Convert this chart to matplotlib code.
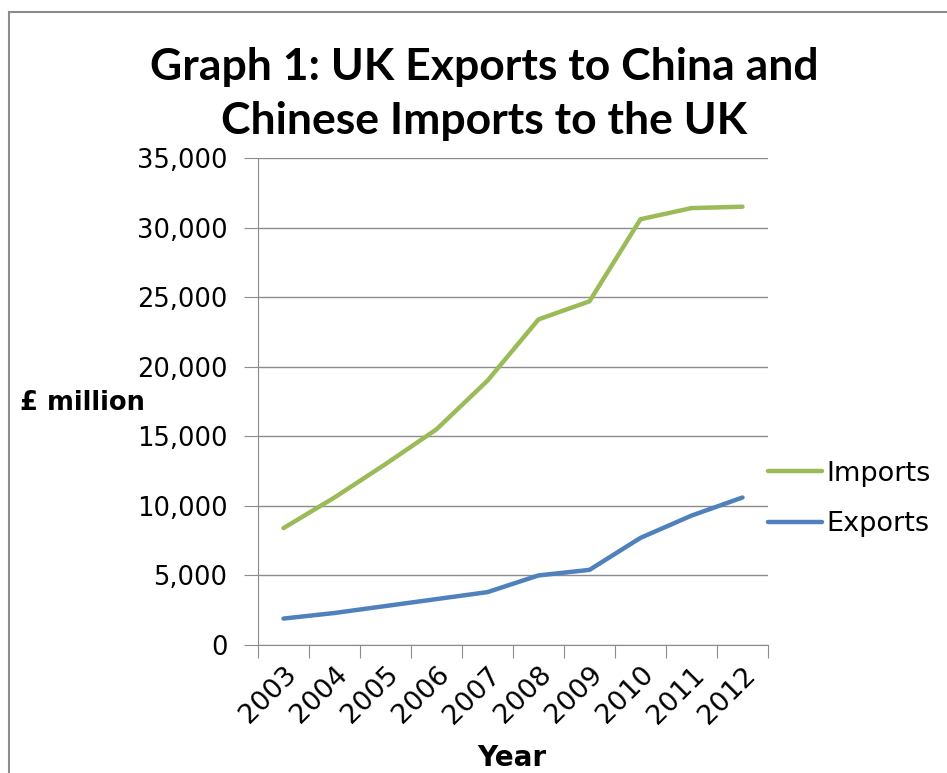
import numpy as np
import matplotlib.pyplot as plt
from matplotlib.patches import Rectangle

years = ['2003', '2004', '2005', '2006', '2007', '2008', '2009', '2010', '2011', '2012']
imports = [8400, 10600, 13000, 15500, 19000, 23400, 24700, 30600, 31400, 31500]
exports = [1900, 2300, 2800, 3300, 3800, 5000, 5400, 7700, 9300, 10600]

fig = plt.figure(figsize=(9.47, 7.73), dpi=100)
ax = fig.add_axes([258/947, 128/773, 510/947, 487/773])

# frame round the chart, running off right and bottom like the screenshot
fig.patches.append(Rectangle((9/947, -0.05), 1.1, (773-12)/773 + 0.05,
                             transform=fig.transFigure, fill=False,
                             edgecolor='#8c8c8c', linewidth=1.5))

x = np.arange(len(years)) + 0.5
ax.plot(x, imports, color='#9BBB59', linewidth=3.2, label='Imports', solid_capstyle='round')
ax.plot(x, exports, color='#4F81BD', linewidth=3.2, label='Exports', solid_capstyle='round')

ax.set_xlim(0, len(years))
ax.set_ylim(0, 35000)
ax.set_yticks(np.arange(0, 35001, 5000))
ax.set_yticklabels(['{:,}'.format(v) for v in range(0, 35001, 5000)])
ax.yaxis.grid(True, color='#8c8c8c', linewidth=1)
ax.set_axisbelow(True)

ax.set_xticks(np.arange(0, len(years) + 1))
ax.set_xticklabels([])
ax.set_xticks(x, minor=True)
ax.set_xticklabels(years, minor=True, rotation=45, ha='right', rotation_mode='anchor')
ax.tick_params(axis='x', which='minor', length=0, pad=12, labelsize=19.5)
ax.tick_params(axis='x', which='major', length=9, color='#8c8c8c')
ax.tick_params(axis='y', length=10, color='#8c8c8c', labelsize=18.5, pad=12)

for s in ['top', 'right']:
    ax.spines[s].set_visible(False)
for s in ['left', 'bottom']:
    ax.spines[s].set_color('#8c8c8c')

fig.text(484/947, 1 - 94/773, 'Graph 1: UK Exports to China and\nChinese Imports to the UK',
         ha='center', va='center', fontsize=32, fontweight='bold', family='Lato',
         linespacing=1.42)
fig.text(20/947, 1 - 403/773, '£ million', ha='left', va='center', fontsize=18.5, fontweight='bold')
fig.text(512/947, 1 - 758/773, 'Year', ha='center', va='center', fontsize=20, fontweight='bold')

ax.legend(loc='center left', bbox_to_anchor=(1.0, 0.30), frameon=False, fontsize=19.5,
          handlelength=2.0, handletextpad=0.15, labelspacing=0.9,
          borderaxespad=0, borderpad=0)

fig.savefig('out.png', dpi=100)
